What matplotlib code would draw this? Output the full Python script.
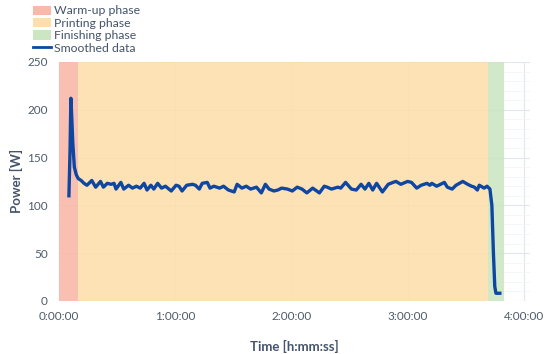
import numpy as np
import matplotlib.pyplot as plt
from matplotlib.patches import Patch
from matplotlib.lines import Line2D
from matplotlib.ticker import FuncFormatter, MultipleLocator

plt.rcParams['font.family'] = ['Lato', 'DejaVu Sans']

# phase boundaries in minutes
warmup_end = 10
printing_end = 221.5
finishing_end = 230

# smoothed power curve (minutes, watts)
t_min = [5.2, 5.8, 6.2, 6.6, 7.2, 8.0, 9.0, 10.0, 11.5, 13.0, 14.5, 17.0, 19.0,
         21.5, 23.0, 25.0, 27.0, 28.5, 29.5, 32.0, 33.5, 36.0, 38.0, 40.0, 42.0,
         44.0, 45.5, 47.5, 49.0, 51.0, 53.0, 55.0, 58.0, 60.5, 62.0, 63.6, 66.0,
         69.0, 70.5, 72.5, 74.0, 76.6, 78.0, 80.0, 83.0, 85.0, 87.5, 90.5, 92.0,
         94.5, 96.7, 99.0, 102.0, 104.5, 106.6, 108.5, 111.0, 113.0, 115.0, 118.0,
         120.5, 123.0, 125.5, 128.0, 131.0, 134.5, 137.0, 138.5, 140.7, 144.0,
         145.5, 148.0, 151.0, 153.5, 156.0, 158.0, 160.0, 162.0, 164.0, 167.0,
         170.0, 172.5, 174.0, 176.5, 180.0, 182.0, 184.7, 187.0, 190.0, 191.5,
         192.5, 195.0, 199.0, 200.5, 203.0, 205.0, 208.5, 211.0, 213.0, 214.5,
         216.0, 217.0, 219.5, 221.0, 222.5, 223.5, 224.3, 225.0, 225.6, 227.6]
power = [110, 160, 212, 195, 165, 140, 132, 128, 126, 123, 121, 126, 119,
         125, 119, 123, 122, 123, 117, 124, 117, 121, 118, 120, 118,
         123, 116, 121, 117, 123, 118, 120, 115, 121, 120, 115, 121,
         122, 121, 117, 123, 124, 118, 120, 118, 120, 116, 114, 122,
         118, 120, 117, 119, 113, 122, 117, 115, 116, 118, 117,
         115, 119, 117, 113, 118, 113, 120, 119, 117, 119,
         118, 124, 117, 116, 122, 117, 123, 116, 123, 114,
         122, 124, 125, 122, 125, 124, 118, 121, 123, 121,
         123, 120, 124, 119, 117, 121, 125, 122, 120, 119,
         116, 121, 118, 120, 117, 100, 50, 15, 8, 8]

c_warm = '#f9b9a9'
c_print = '#fddfae'
c_finish = '#cce6c3'
c_line = '#0d47a1'
c_text = '#44546a'
c_tick = '#4f5b6b'

fig = plt.figure(figsize=(5.5, 3.54), dpi=100)
ax = fig.add_axes([0.107, 0.150, 0.856, 0.675])

ax.axvspan(0, warmup_end * 60, color=c_warm, lw=0, alpha=0.9, zorder=2)
ax.axvspan(warmup_end * 60, printing_end * 60, color=c_print, lw=0, alpha=0.9, zorder=2)
ax.axvspan(printing_end * 60, finishing_end * 60, color=c_finish, lw=0, alpha=0.9, zorder=2)

t_sec = np.array(t_min) * 60
ax.plot(t_sec, power, color=c_line, lw=2.4, solid_joinstyle='round', zorder=3)

ax.set_xlim(0, 243 * 60)
ax.set_ylim(0, 250)
ax.xaxis.set_major_locator(MultipleLocator(3600))
ax.yaxis.set_major_locator(MultipleLocator(50))
ax.yaxis.set_minor_locator(MultipleLocator(10))


def hms(x, pos):
    s = int(round(x))
    return '{}:{:02d}:{:02d}'.format(s // 3600, (s % 3600) // 60, s % 60)


ax.xaxis.set_major_formatter(FuncFormatter(hms))

ax.grid(True, which='major', color='#e2e6ed', lw=0.8, zorder=1)
ax.grid(True, which='minor', axis='y', color='#f3f4f7', lw=0.6, zorder=1)
for sp in ax.spines.values():
    sp.set_visible(False)
ax.tick_params(which='both', length=0, labelsize=8.5, colors=c_tick, pad=7)
ax.tick_params(axis='y', pad=8)

ax.set_ylabel('Power [W]', fontsize=9.5, fontweight='bold', color=c_text, labelpad=3)
ax.set_xlabel('Time [h:mm:ss]', fontsize=9.5, fontweight='bold', color=c_text, labelpad=13)

handles = [Patch(facecolor=c_warm, edgecolor='none', label='Warm-up phase'),
           Patch(facecolor=c_print, edgecolor='none', label='Printing phase'),
           Patch(facecolor=c_finish, edgecolor='none', label='Finishing phase'),
           Line2D([0], [0], color=c_line, lw=2, label='Smoothed data')]
leg = fig.legend(handles=handles, loc='upper left', bbox_to_anchor=(0.058, 0.988),
                 frameon=False, fontsize=8.8, labelspacing=0.12, handlelength=1.45,
                 handleheight=0.8, handletextpad=0.25, borderaxespad=0, borderpad=0.1)
for txt in leg.get_texts():
    txt.set_color(c_text)

fig.savefig('out.png', dpi=100)
